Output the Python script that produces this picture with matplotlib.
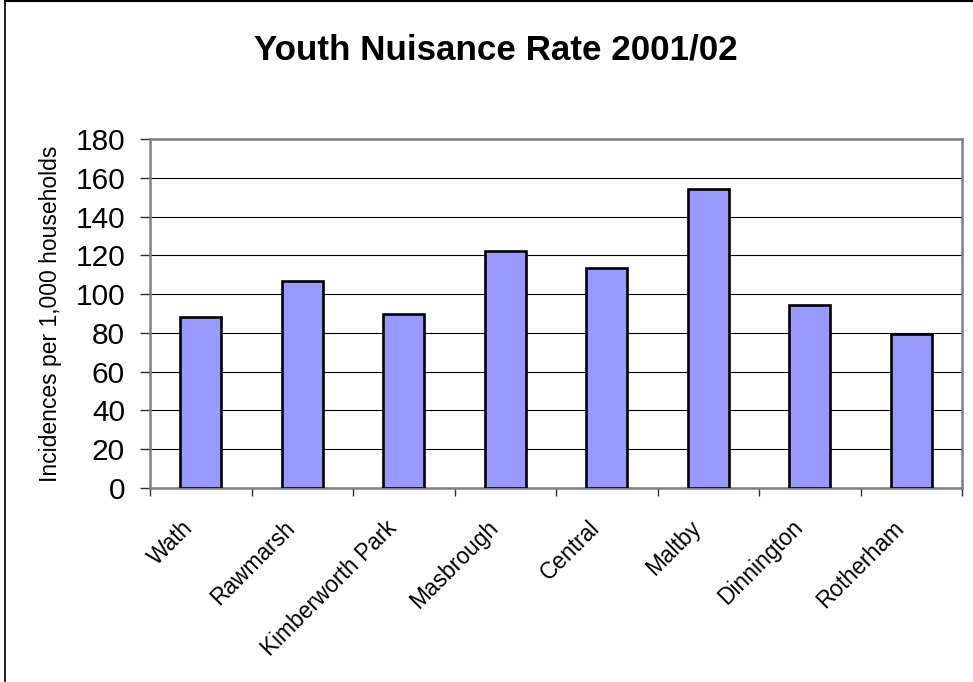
import matplotlib.pyplot as plt
from matplotlib.lines import Line2D
from matplotlib.transforms import ScaledTranslation

areas = ["Wath", "Rawmarsh", "Kimberworth Park", "Masbrough",
         "Central", "Maltby", "Dinnington", "Rotherham"]
rates = [88.2, 106.9, 89.5, 122.0, 113.6, 154.0, 94.2, 79.2]
y_ticks = [0, 20, 40, 60, 80, 100, 120, 140, 160, 180]

plt.rcParams['font.family'] = ['Liberation Sans', 'DejaVu Sans']

fig = plt.figure(figsize=(9.73, 6.82), dpi=100)
ax = fig.add_axes([150 / 973, 1 - 488 / 682, 812 / 973, 349 / 682])

x = list(range(len(areas)))
ax.bar(x, rates, width=0.4, color="#9999FF", edgecolor="black",
       linewidth=1.9, zorder=3)

ax.set_xlim(-0.5, len(areas) - 0.5)
ax.set_ylim(0, 180)
ax.set_yticks(y_ticks)
ax.yaxis.grid(True, color="black", linewidth=0.8, zorder=0)

# category ticks sit between the bars
ax.set_xticks([i - 0.5 for i in range(len(areas) + 1)], minor=False)
ax.set_xticklabels([])
ax.set_xticks(x, minor=True)
ax.set_xticklabels(areas, minor=True, rotation=45, ha="right", va="center",
                   rotation_mode="anchor", fontsize=16.4)
ax.tick_params(axis="x", which="minor", length=0, pad=26)
ax.tick_params(axis="x", which="major", length=6, width=1, color="#303030",
               direction="out")
ax.tick_params(axis="y", length=7.2, width=1, color="#303030", labelsize=21.5,
               pad=10.8)

# nudge the slanted labels left so they end just before the bar centre
shift = ScaledTranslation(-11 / 100, 0, fig.dpi_scale_trans)
for lab in ax.get_xticklabels(minor=True):
    lab.set_transform(lab.get_transform() + shift)

for s in ax.spines.values():
    s.set_color("#808080")
    s.set_linewidth(1.8)

ax.set_ylabel("Incidences per 1,000 households", fontsize=16.5)
ax.yaxis.set_label_coords(-0.108, 0.5)

fig.text(496 / 973, 1 - 60 / 682, "Youth Nuisance Rate 2001/02", ha="center",
         va="baseline", fontsize=25.2, fontweight="bold")

# chart area border (left and top edges)
fig.add_artist(Line2D([4.5 / 973, 4.5 / 973], [0, 1 - 1 / 682],
                      transform=fig.transFigure, color="black", linewidth=1.2))
fig.add_artist(Line2D([4.5 / 973, 1], [1 - 1 / 682, 1 - 1 / 682],
                      transform=fig.transFigure, color="black", linewidth=1.5))

fig.savefig("out.png", dpi=100)
